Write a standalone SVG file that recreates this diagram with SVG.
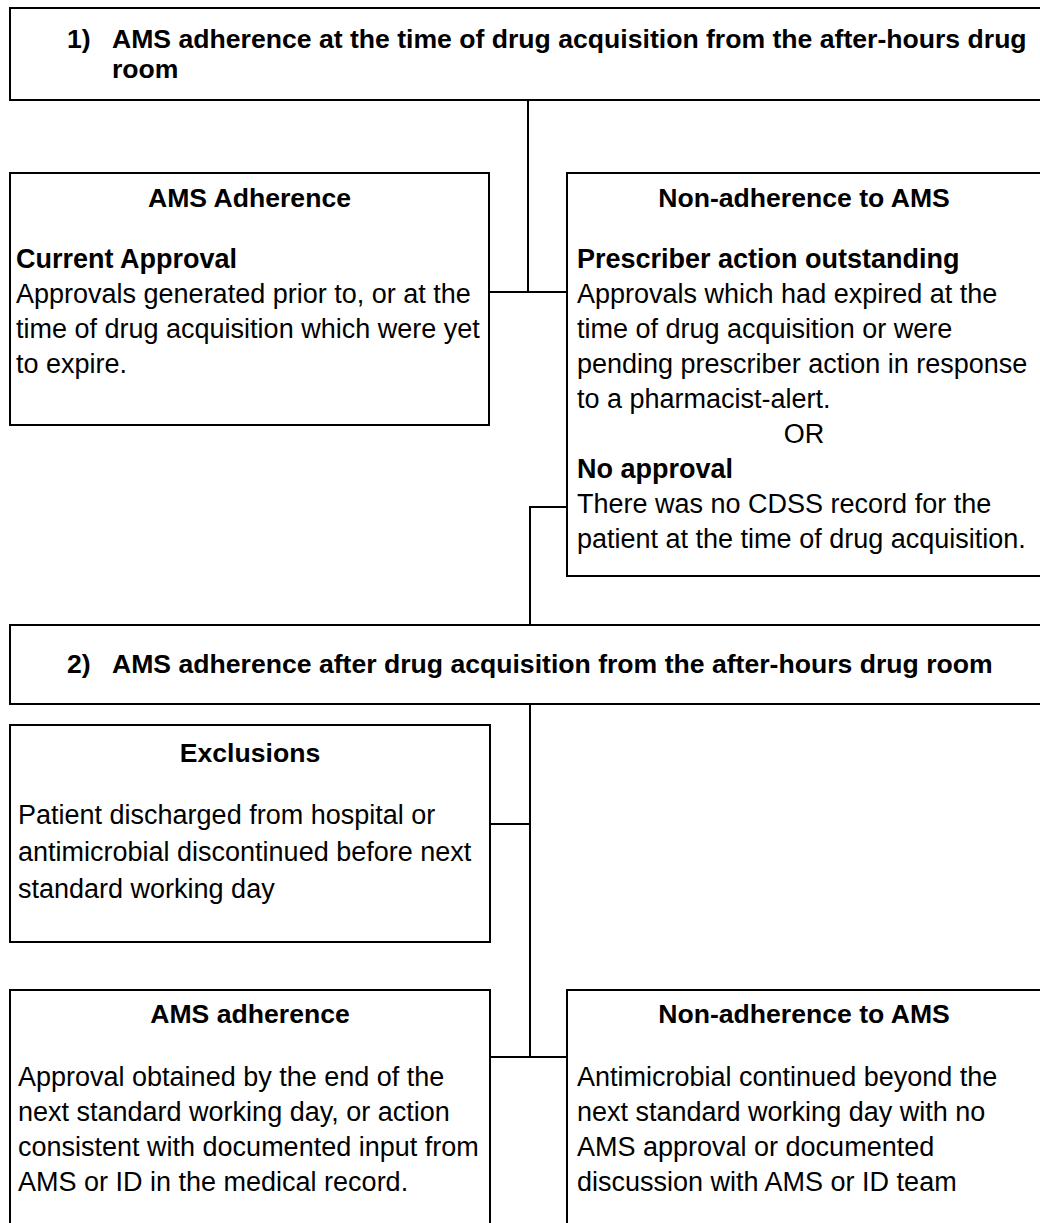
<svg xmlns="http://www.w3.org/2000/svg" width="1040" height="1223" viewBox="0 0 1040 1223">
<style>
.box{fill:#fff;stroke:#000;stroke-width:2}
.ln{fill:none;stroke:#000;stroke-width:2}
.t{font-family:"Liberation Sans",Arial,sans-serif;font-size:26.6px;font-weight:bold;fill:#000}
.b{font-family:"Liberation Sans",Arial,sans-serif;font-size:27px;font-weight:bold;fill:#000}
.r{font-family:"Liberation Sans",Arial,sans-serif;font-size:27px;fill:#000}
.c{text-anchor:middle}
</style>
<rect width="1040" height="1223" fill="#fff"/>
<g id="connectors">
<path class="ln" d="M528,100 V292 M489,292 H567"/>
<path class="ln" d="M567,507 H530 V625"/>
<path class="ln" d="M530,704 V1057 M490,824 H530 M490,1057 H567"/>
</g>
<g id="title1">
<rect class="box" x="10" y="8" width="1031" height="92"/>
<text class="t" x="67" y="48">1)</text>
<text class="t" x="112" y="48">AMS adherence at the time of drug acquisition from the after-hours drug</text>
<text class="t" x="112" y="78">room</text>
</g>
<g id="ams-adherence-1">
<rect class="box" x="10" y="173" width="479" height="252"/>
<text class="t c" x="249.5" y="207">AMS Adherence</text>
<text class="b" x="16" y="268">Current Approval</text>
<text class="r" x="16" y="303">Approvals generated prior to, or at the</text>
<text class="r" x="16" y="338">time of drug acquisition which were yet</text>
<text class="r" x="16" y="373">to expire.</text>
</g>
<g id="non-adherence-1">
<rect class="box" x="567" y="173" width="474" height="403"/>
<text class="t c" x="804" y="207">Non-adherence to AMS</text>
<text class="b" x="577" y="268">Prescriber action outstanding</text>
<text class="r" x="577" y="303">Approvals which had expired at the</text>
<text class="r" x="577" y="338">time of drug acquisition or were</text>
<text class="r" x="577" y="373">pending prescriber action in response</text>
<text class="r" x="577" y="408">to a pharmacist-alert.</text>
<text class="r c" x="804" y="443">OR</text>
<text class="b" x="577" y="478">No approval</text>
<text class="r" x="577" y="513">There was no CDSS record for the</text>
<text class="r" x="577" y="548">patient at the time of drug acquisition.</text>
</g>
<g id="title2">
<rect class="box" x="10" y="625" width="1031" height="79"/>
<text class="t" x="67" y="673">2)</text>
<text class="t" x="112" y="673">AMS adherence after drug acquisition from the after-hours drug room</text>
</g>
<g id="exclusions">
<rect class="box" x="10" y="725" width="480" height="217"/>
<text class="t c" x="250" y="762">Exclusions</text>
<text class="r" x="18" y="824">Patient discharged from hospital or</text>
<text class="r" x="18" y="861">antimicrobial discontinued before next</text>
<text class="r" x="18" y="898">standard working day</text>
</g>
<g id="ams-adherence-2">
<rect class="box" x="10" y="990" width="480" height="260"/>
<text class="t c" x="250" y="1023">AMS adherence</text>
<text class="r" x="18" y="1086">Approval obtained by the end of the</text>
<text class="r" x="18" y="1121">next standard working day, or action</text>
<text class="r" x="18" y="1156">consistent with documented input from</text>
<text class="r" x="18" y="1191">AMS or ID in the medical record.</text>
</g>
<g id="non-adherence-2">
<rect class="box" x="567" y="990" width="474" height="260"/>
<text class="t c" x="804" y="1023">Non-adherence to AMS</text>
<text class="r" x="577" y="1086">Antimicrobial continued beyond the</text>
<text class="r" x="577" y="1121">next standard working day with no</text>
<text class="r" x="577" y="1156">AMS approval or documented</text>
<text class="r" x="577" y="1191">discussion with AMS or ID team</text>
</g>
</svg>
